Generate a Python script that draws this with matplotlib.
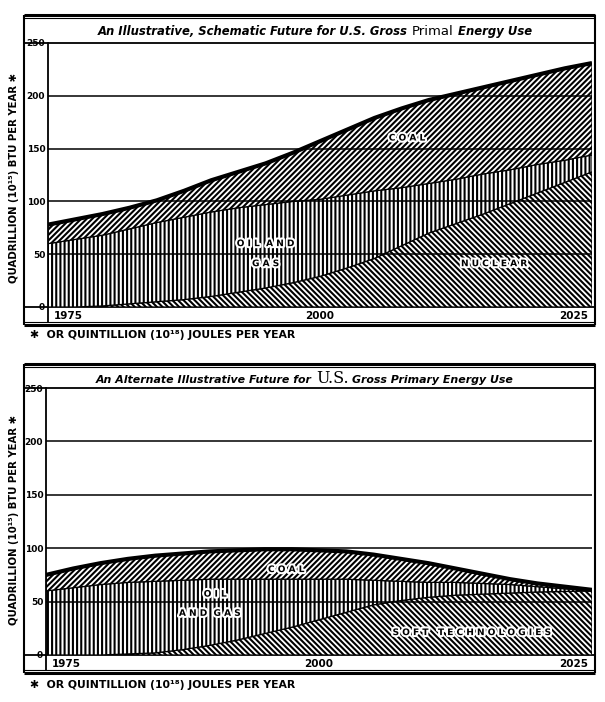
import numpy as np
import matplotlib.pyplot as plt
import matplotlib.patheffects as pe

years = [1975, 1977.5, 1980, 1982.5, 1985, 1987.5, 1990, 1992.5, 1995, 1997.5, 2000,
         2002.5, 2005, 2007.5, 2010, 2012.5, 2015, 2017.5, 2020, 2022.5, 2025]

# upper chart: hard path, tops of each stacked band (quads per year)
hard_nuclear_top = [0, 0, 1, 3, 5, 7, 10, 14, 18, 23, 29,
                    37, 46, 58, 70, 79, 88, 98, 108, 118, 128]
hard_oil_gas_top = [60, 64, 68, 74, 80, 85, 90, 94, 97, 100, 102,
                    106, 110, 113, 117, 121, 126, 130, 135, 139, 144]
hard_total = [78, 83, 88, 94, 101, 110, 120, 128, 136, 146, 157,
              168, 179, 188, 196, 202, 208, 214, 220, 226, 231]

# lower chart: soft path
soft_tech_top = [0, 0, 0, 1, 2, 5, 9, 14, 20, 26, 33,
                 40, 47, 51, 54, 56, 57, 58, 59, 59.5, 60]
soft_oil_gas_top = [60, 63, 66, 68, 69, 70, 71, 71, 71, 71, 71,
                    71, 70, 69, 68, 68, 67, 66, 64, 62, 60]
soft_total = [75, 81, 86, 90, 93, 95, 97, 98, 99, 99, 98,
              97, 94, 90, 86, 81, 76, 71, 67, 64, 61]

y_ticks = [0, 50, 100, 150, 200, 250]
year_labels = ['1975', '2000', '2025']

W, H = 605, 702
plt.rcParams['hatch.linewidth'] = 1.5
halo = [pe.withStroke(linewidth=3, foreground='white')]


def px(x0, y0, x1, y1):
    # pixel box (top-left origin) -> figure fraction rect
    return [x0 / W, 1 - y1 / H, (x1 - x0) / W, (y1 - y0) / H]


def draw_frame(bg, top, title_line, zero_y, bottom, left=24, right=595, axis_x=48):
    kw = dict(color='black', solid_capstyle='butt')
    bg.plot([left, right], [top, top], lw=2.2, **kw)
    bg.plot([left, right], [top + 3, top + 3], lw=0.8, **kw)
    bg.plot([left, right], [title_line, title_line], lw=1.3, **kw)
    bg.plot([left, right], [zero_y, zero_y], lw=1.3, **kw)
    bg.plot([left, right], [bottom - 3, bottom - 3], lw=0.8, **kw)
    bg.plot([left, right], [bottom, bottom], lw=2.2, **kw)
    bg.plot([left, left], [top, bottom], lw=1.5, **kw)
    bg.plot([right, right], [top, bottom], lw=1.5, **kw)
    bg.plot([axis_x, axis_x], [zero_y, bottom - 3], lw=1.3, **kw)


def draw_panel(ax, tops, labels):
    hatches = ['\\\\\\\\\\\\', '||||', '//////']
    base = np.zeros(len(years))
    for vals, h in zip(tops, hatches):
        top = np.array(vals)
        ax.fill_between(years, base, top, facecolor='white', edgecolor='black',
                        hatch=h, linewidth=0.9, zorder=2)
        base = top
    ax.plot(years, tops[-1], color='black', lw=3, zorder=4, solid_capstyle='butt')

    for y in y_ticks[1:-1]:
        ax.axhline(y, color='black', lw=1.1, zorder=3)

    ax.set_xlim(1975, 2025)
    ax.set_ylim(0, 247)
    ax.set_facecolor('none')
    for s in ['top', 'right', 'bottom']:
        ax.spines[s].set_visible(False)
    ax.spines['left'].set_linewidth(1.3)
    ax.set_xticks([])
    ax.set_yticks(y_ticks)
    ax.set_yticklabels([str(v) for v in y_ticks], fontsize=6.5, fontweight='bold')
    ax.tick_params(axis='y', length=0, pad=2)

    tr = ax.get_xaxis_transform()
    ax.text(1975.5, -0.035, year_labels[0], transform=tr, ha='left', va='center',
            fontsize=7.5, fontweight='bold')
    ax.text(2000, -0.035, year_labels[1], transform=tr, ha='center', va='center',
            fontsize=7.5, fontweight='bold')
    ax.text(2024.6, -0.035, year_labels[2], transform=tr, ha='right', va='center',
            fontsize=7.5, fontweight='bold')

    for (x, y, s) in labels:
        ax.text(x, y, s, ha='center', va='center', fontsize=6.5, fontweight='bold',
                zorder=6, path_effects=halo)


def title_chain(fig, x, y, parts):
    # pieces share one baseline, each placed after the previous one
    renderer = fig.canvas.get_renderer()
    for text, kw in parts:
        t = fig.text(x / W, 1 - y / H, text, ha='left', va='baseline', **kw)
        x = t.get_window_extent(renderer).x1 + 4


def main():
    fig = plt.figure(figsize=(W / 100, H / 100), dpi=100)
    bg = fig.add_axes([0, 0, 1, 1])
    bg.set_xlim(0, W)
    bg.set_ylim(H, 0)
    bg.axis('off')

    draw_frame(bg, 15, 43, 307, 325, axis_x=48)
    draw_frame(bg, 364, 388, 655, 673, axis_x=46)

    ax1 = fig.add_axes(px(48, 43, 592, 307))
    draw_panel(ax1, [hard_nuclear_top, hard_oil_gas_top, hard_total],
               [(2008, 160, 'C O A L'), (1995, 60, 'O I L  A N D'),
                (1995, 41, 'G A S'), (2016, 41, 'N U C L E A R')])

    ax2 = fig.add_axes(px(46, 388, 592, 655))
    draw_panel(ax2, [soft_tech_top, soft_oil_gas_top, soft_total],
               [(1997, 80, 'C O A L'), (1990.5, 57, 'O I L'),
                (1990, 39, 'A N D  G A S'), (2014, 21, 'S O F T   T E C H N O L O G I E S')])

    it = dict(fontsize=8.4, style='italic', fontweight='bold', family='DejaVu Sans')
    title_chain(fig, 98, 35, [('An Illustrative, Schematic Future for U.S. Gross', it),
                              ('Primal', dict(fontsize=9.5, family='DejaVu Sans')),
                              ('Energy Use', it)])
    it2 = dict(it, fontsize=7.9)
    title_chain(fig, 96, 383, [('An Alternate Illustrative Future for', it2),
                               ('U.S.', dict(fontsize=11.5, family='DejaVu Serif')),
                               ('Gross Primary Energy Use', it2)])

    ylab = 'QUADRILLION (10\u00b9\u2075) BTU PER YEAR \u2731'
    foot = '\u2731  OR QUINTILLION (10\u00b9\u2078) JOULES PER YEAR'
    fig.text(14 / W, 1 - 178 / H, ylab, rotation=90, ha='center', va='center',
             fontsize=7.3, fontweight='bold')
    fig.text(14 / W, 1 - 520 / H, ylab, rotation=90, ha='center', va='center',
             fontsize=7.3, fontweight='bold')
    fig.text(30 / W, 1 - 335 / H, foot, ha='left', va='center', fontsize=7.8,
             fontweight='bold')
    fig.text(30 / W, 1 - 685 / H, foot, ha='left', va='center', fontsize=7.8,
             fontweight='bold')

    fig.savefig('out.png', dpi=100)


if __name__ == "__main__":
    main()
